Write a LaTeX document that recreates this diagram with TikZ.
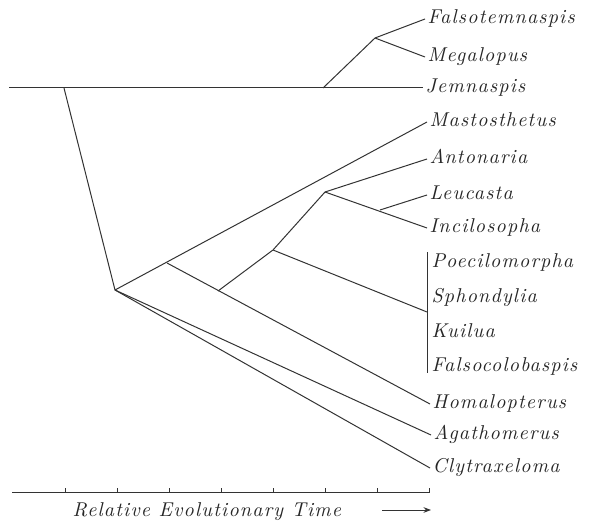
\documentclass[tikz,border=0pt]{standalone}
\usepackage{fontspec}
\usetikzlibrary{arrows.meta}
\newfontfamily\handfam{lmroman10-italic.otf}[LetterSpace=6]
\newcommand{\handfont}{\fontsize{20}{23}\selectfont\handfam}

\begin{document}
\begin{tikzpicture}[x=1pt,y=-1pt, >=Stealth, line width=1pt, line join=round, draw=black!80,
  taxon/.style={anchor=west,inner sep=2pt,font=\handfont,text height=2ex,text depth=0pt,text=black!85}]
\useasboundingbox (0,0) rectangle (592,524);
% branching points
\coordinate (top0) at (9,88);
\coordinate (j1) at (64,88);
\coordinate (j2) at (323,88);
\coordinate (j3) at (375,38);
\coordinate (root) at (115,290);
\coordinate (k1) at (167,263);
\coordinate (k2) at (218,291);
\coordinate (k3) at (273,250);
\coordinate (k4) at (325,192);
\coordinate (k5) at (380,210);
\coordinate (bar) at (427,312);
\coordinate (bartop) at (427,252);
\coordinate (barbot) at (427,373);
% taxa
\node[taxon] (falso) at (425,19) {Falsotemnaspis};
\node[taxon] (mega) at (425,57) {Megalopus};
\node[taxon] (jem) at (423,88) {Jemnaspis};
\node[taxon] (mast) at (427,122) {Mastosthetus};
\node[taxon] (anto) at (427,159) {Antonaria};
\node[taxon] (leuc) at (427,195) {Leucasta};
\node[taxon] (inci) at (427,228) {Incilosopha};
\node[taxon] (poec) at (429,263) {Poecilomorpha};
\node[taxon] (spho) at (429,298) {Sphondylia};
\node[taxon] (kuil) at (429,333) {Kuilua};
\node[taxon] (fcol) at (429,367) {Falsocolobaspis};
\node[taxon] (homa) at (430,404) {Homalopterus};
\node[taxon] (agat) at (431,435) {Agathomerus};
\node[taxon] (clyt) at (430,468) {Clytraxeloma};
% tree
\draw (top0) -- (jem.west);
\draw (j2) -- (j3) -- (falso.west);
\draw (j3) -- (mega.west);
\draw (j1) -- (root) -- (mast.west);
\draw (k1) -- (homa.west);
\draw (k2) -- (k3) -- (k4) -- (anto.west);
\draw (k4) -- (inci.west);
\draw (k5) -- (leuc.west);
\draw (k3) -- (bar);
\draw (bartop) -- (barbot);
\draw (root) -- (agat.west);
\draw (root) -- (clyt.west);
% time axis
\coordinate (ax0) at (12,492);
\coordinate (ax1) at (430,492);
\draw (ax0) -- (ax1);
\foreach \x in {65,117,169,221,273,325,377,429}
  \draw (\x,492) -- (\x,488);
\node[taxon] (axlab) at (70,512) {Relative Evolutionary Time};
\coordinate (arr0) at (382,510);
\coordinate (arr1) at (431,510);
\draw[->] (arr0) -- (arr1);
\end{tikzpicture}
\end{document}
